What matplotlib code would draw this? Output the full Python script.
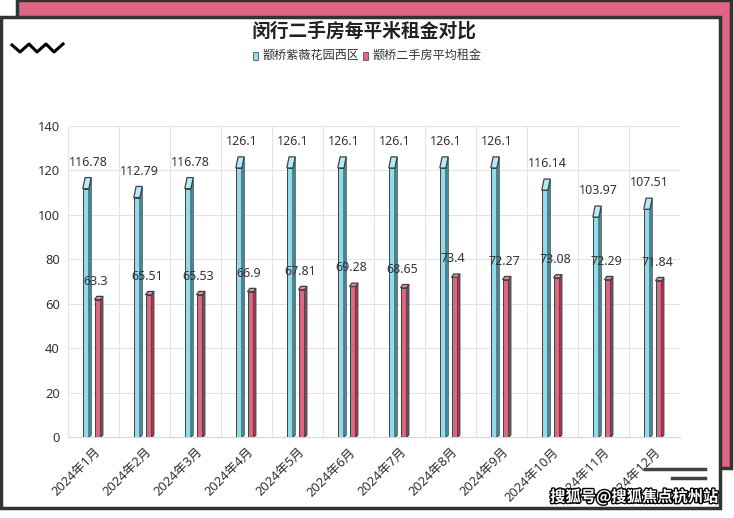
import matplotlib
matplotlib.use("Agg")
import matplotlib.pyplot as plt
from matplotlib.patches import Rectangle, Polygon
from matplotlib.lines import Line2D
import matplotlib.patheffects as pe

plt.rcParams['font.family'] = ['Noto Sans CJK SC', 'DejaVu Sans']
NUM_FONT = ['Noto Sans', 'Noto Sans CJK SC', 'DejaVu Sans']

# data
months = ["2024年1月", "2024年2月", "2024年3月", "2024年4月", "2024年5月", "2024年6月",
          "2024年7月", "2024年8月", "2024年9月", "2024年10月", "2024年11月", "2024年12月"]
ziwei = [116.78, 112.79, 116.78, 126.1, 126.1, 126.1, 126.1, 126.1, 126.1, 116.14, 103.97, 107.51]
avg_rent = [63.3, 65.51, 65.53, 66.9, 67.81, 69.28, 68.65, 73.4, 72.27, 73.08, 72.29, 71.84]
series_names = ["颛桥紫薇花园西区", "颛桥二手房平均租金"]
yticks = [0, 20, 40, 60, 80, 100, 120, 140]

W, H = 734, 518
fig = plt.figure(figsize=(W / 100, H / 100), dpi=100)


def fx(x):
    return x / W


def fy(y):
    return 1 - y / H


# background frames
fig.patches.append(Rectangle((fx(17), fy(468)), fx(714), 468 / H, transform=fig.transFigure,
                             facecolor="#e06582", edgecolor="#333333", linewidth=2.5, zorder=0))
fig.patches.append(Rectangle((fx(1.5), fy(508)), fx(718), 491 / H, transform=fig.transFigure,
                             facecolor="white", edgecolor="#333333", linewidth=2.5, zorder=1))

# zigzag icon
zx = [12, 20, 29, 37, 46, 54, 63]
zy = [45, 52, 44, 52, 44, 52, 44]
fig.lines.append(Line2D([fx(v) for v in zx], [fy(v) for v in zy], transform=fig.transFigure,
                        color="black", linewidth=2.2, zorder=2))
# bottom-right bars
fig.lines.append(Line2D([fx(645), fx(705)], [fy(469), fy(469)], transform=fig.transFigure,
                        color="#444444", linewidth=2.5, zorder=2))
fig.lines.append(Line2D([fx(672), fx(705)], [fy(478), fy(478)], transform=fig.transFigure,
                        color="#444444", linewidth=2.5, zorder=2))

fig.text(fx(364), fy(31), "闵行二手房每平米租金对比", ha="center", va="center",
         fontsize=13.5, fontweight="bold", color="#222222", zorder=3)

ax = fig.add_axes([fx(68), fy(437), fx(612), 311 / H])
ax.set_zorder(3)
ax.patch.set_alpha(0)

ax.set_xlim(-0.5, len(months) - 0.5)
ax.set_ylim(0, 140)
ax.set_yticks(yticks)
ax.set_xticks(range(len(months)))
ax.set_xticklabels(months, rotation=45, ha="right", rotation_mode="anchor")
ax.tick_params(axis="both", length=0, labelsize=9.3, colors="#333333")
ax.tick_params(axis="x", pad=6)
ax.tick_params(axis="y", pad=6)
for lab in ax.get_xticklabels() + ax.get_yticklabels():
    lab.set_family(NUM_FONT)
for s in ax.spines.values():
    s.set_visible(False)
ax.spines["bottom"].set_visible(True)
ax.spines["bottom"].set_color("#d8d8d8")
for v in yticks[1:]:
    ax.axhline(v, color="#e4e4e4", linewidth=0.8, zorder=0)
for b in range(len(months) + 1):
    ax.axvline(b - 0.5, color="#e4e4e4", linewidth=0.8, zorder=0)

bw = 0.12
dx = 0.045
edge = "#3a4448"


def bar3d(x0, v, front, side, top, cap):
    x1 = x0 + bw
    ax.add_patch(Rectangle((x0, 0), bw, v - cap, facecolor=front, edgecolor=edge, linewidth=0.7, zorder=4))
    ax.add_patch(Polygon([(x1, 0), (x1 + dx, 0.8), (x1 + dx, v), (x1, v - cap)],
                         closed=True, facecolor=side, edgecolor=edge, linewidth=0.7, zorder=4))
    ax.add_patch(Polygon([(x0, v - cap), (x1, v - cap), (x1 + dx, v), (x0 + dx, v)],
                         closed=True, facecolor=top, edgecolor=edge, linewidth=0.9, zorder=5))


for i, (a, b) in enumerate(zip(ziwei, avg_rent)):
    bar3d(i - 0.21, a, "#8fdcec", "#5fa2b0", "#b4ebf5", 5.0)
    bar3d(i + 0.02, b, "#e0657f", "#9c4558", "#ec8ea2", 1.5)
    ax.annotate(f"{a:g}", (i - 0.1, a), xytext=(0, 11), textcoords="offset points",
                ha="center", va="center", fontsize=9, family=NUM_FONT, color="#333333", zorder=6)
    ax.annotate(f"{b:g}", (i + 0.05, b), xytext=(0, 11), textcoords="offset points",
                ha="center", va="center", fontsize=9, family=NUM_FONT, color="#333333", zorder=6)

# legend
lx = [fx(253), fx(363)]
for x, name, c in zip(lx, series_names, ["#8fdcec", "#e0657f"]):
    fig.patches.append(Rectangle((x, fy(59.5)), fx(5), 8 / H, transform=fig.transFigure,
                                 facecolor=c, edgecolor="#555555", linewidth=0.6, zorder=3))
    fig.text(x + fx(9), fy(55), name, ha="left", va="center", fontsize=8.7,
             color="#333333", zorder=3)

# watermark
fig.text(fx(718), fy(497), "搜狐号@搜狐焦点杭州站", ha="right", va="center", fontsize=11,
         fontweight="bold", color="white", zorder=10,
         path_effects=[pe.withStroke(linewidth=2, foreground="black")])

fig.savefig("out.png", dpi=100)
